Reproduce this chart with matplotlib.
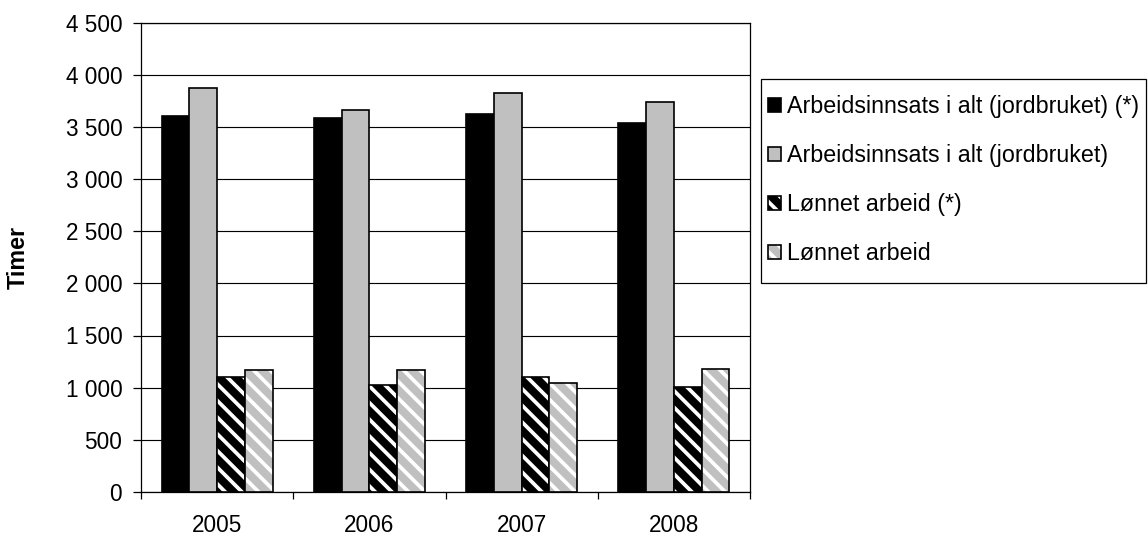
import numpy as np
import matplotlib
matplotlib.use('Agg')
import matplotlib.pyplot as plt
from matplotlib.ticker import MultipleLocator, FuncFormatter

plt.rcParams['font.family'] = ['Liberation Sans', 'DejaVu Sans']
plt.rcParams['hatch.linewidth'] = 1.8

years = ['2005', '2006', '2007', '2008']
labels = ['Arbeidsinnsats i alt (jordbruket) (*)',
          'Arbeidsinnsats i alt (jordbruket)',
          'Lønnet arbeid (*)',
          'Lønnet arbeid']
total_star = [3600, 3585, 3625, 3535]
total = [3875, 3665, 3825, 3740]
paid_star = [1100, 1030, 1105, 1010]
paid = [1165, 1165, 1045, 1180]

series = [total_star, total, paid_star, paid]
faces = ['black', '#c0c0c0', 'black', '#c0c0c0']
hatches = [None, None, '\\\\\\', '\\\\\\']

W, H = 1148, 535
fig = plt.figure(figsize=(W/150, H/150))
ax = fig.add_axes([141/W, 43/H, 609/W, 469.5/H])

x = np.arange(len(years))
w = 0.182
for i, vals in enumerate(series):
    bars = ax.bar(x + (i - 1.5)*w, vals, w, color=faces[i], edgecolor='black',
                  linewidth=0.8, hatch=hatches[i], label=labels[i], zorder=3)
    if hatches[i]:
        # white stripes, black outline
        for b in bars:
            b._hatch_color = (1, 1, 1, 1)

ax.set_xlim(-0.5, 3.5)
ax.set_ylim(0, 4500)
ax.yaxis.set_major_locator(MultipleLocator(500))
ax.yaxis.set_major_formatter(FuncFormatter(lambda v, p: f'{v:,.0f}'.replace(',', ' ')))
ax.grid(axis='y', color='black', linewidth=0.55, zorder=0)
ax.set_axisbelow(True)

# year labels in the middle, tick marks on the boundaries
ax.set_xticks(x)
ax.set_xticklabels(years)
ax.set_xticks(np.arange(-0.5, 4, 1), minor=True)
ax.tick_params(axis='x', which='major', length=0, pad=10.5, labelsize=10.8)
ax.tick_params(axis='x', which='minor', length=3.5, width=0.6, direction='out')
ax.tick_params(axis='y', length=4, width=0.6, pad=5, labelsize=10.8)

for s in ax.spines.values():
    s.set_linewidth(0.6)
    s.set_color('black')

ax.set_ylabel('Timer', fontsize=11.2, fontweight='bold')
ax.yaxis.set_label_coords(-0.182, 0.5)

# legend without its own frame, box drawn separately
ax.legend(loc='upper left', bbox_to_anchor=(768/W, 1 - 95/H),
          bbox_transform=fig.transFigure, fontsize=11.2, frameon=False,
          borderpad=0, labelspacing=1.12, handlelength=0.56, handleheight=0.56,
          handletextpad=0.26, borderaxespad=0)
fig.add_artist(plt.Rectangle((761/W, 1 - 283/H), 385/W, 204/H,
                             transform=fig.transFigure, fill=False,
                             edgecolor='black', linewidth=0.6))

fig.savefig('out.png', dpi=150)
